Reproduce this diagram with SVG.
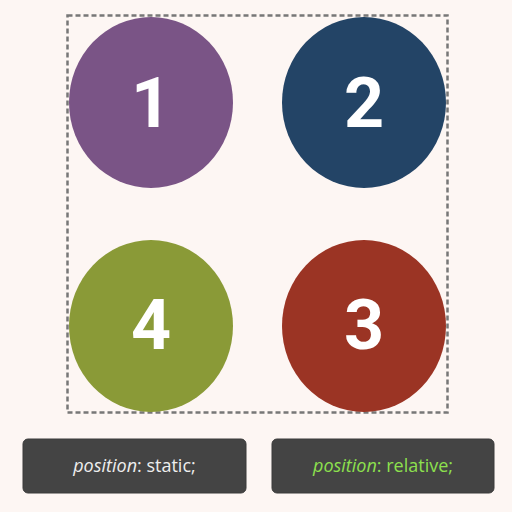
<svg xmlns="http://www.w3.org/2000/svg" width="512" height="512" viewBox="0 0 512 512">
<style>
.num{font-family:Roboto,"Open Sans",sans-serif;font-weight:bold;font-size:70px;fill:#fff;text-anchor:middle}
.lbl{font-family:"Open Sans","Liberation Sans",sans-serif;font-size:18px;text-anchor:middle}
.box{fill:#444;stroke:#3a3a3a;stroke-width:1}
</style>
<rect width="512" height="512" fill="#fdf6f3"/>
<rect id="container" x="67.5" y="15.5" width="380" height="397" fill="none" stroke="#777" stroke-width="2.5" stroke-dasharray="5,3"/>
<g id="node1"><ellipse cx="151" cy="102.5" rx="82" ry="85.5" fill="#7a5486"/><text class="num" x="151" y="127">1</text></g>
<g id="node2"><ellipse cx="364" cy="102.5" rx="82" ry="85.5" fill="#234466"/><text class="num" x="364" y="127">2</text></g>
<g id="node4"><ellipse cx="151" cy="326" rx="82" ry="86" fill="#8a9a37"/><text class="num" x="151" y="349">4</text></g>
<g id="node3"><ellipse cx="364" cy="326" rx="82" ry="86" fill="#9b3424"/><text class="num" x="364" y="349">3</text></g>
<g id="connectors"></g>
<g id="label-static"><rect class="box" x="23" y="439" width="223" height="54" rx="5"/><text class="lbl" x="134.5" y="472" fill="#eee"><tspan font-style="italic">position</tspan>: static;</text></g>
<g id="label-relative"><rect class="box" x="272" y="439" width="222" height="54" rx="5"/><text class="lbl" x="383" y="472" fill="#8de04e"><tspan font-style="italic">position</tspan>: relative;</text></g>
</svg>
